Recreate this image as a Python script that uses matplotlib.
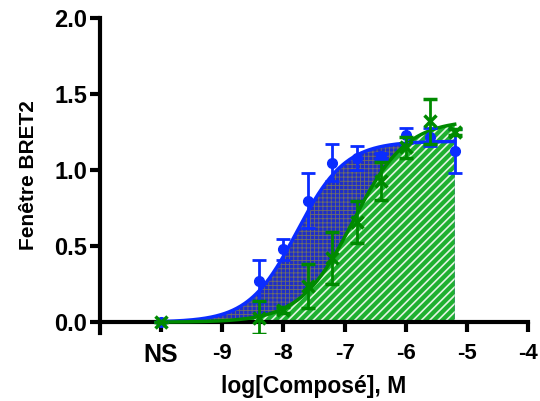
import numpy as np
import matplotlib
matplotlib.use('Agg')
import matplotlib.pyplot as plt

# données (log M), NS placé à -10
log_conc = [-8.4, -8.0, -7.6, -7.2, -6.8, -6.4, -6.0, -5.6, -5.2]
ns_pos = -10

blue_y = [0.27, 0.48, 0.80, 1.05, 1.08, 1.09, 1.23, 1.22, 1.125]
blue_err = [0.14, 0.07, 0.18, 0.12, 0.08, 0.02, 0.05, 0.06, 0.145]
blue_ns = 0.0

green_y = [0.03, 0.08, 0.24, 0.42, 0.66, 0.93, 1.15, 1.32, 1.25]
green_err = [0.11, 0.02, 0.145, 0.17, 0.14, 0.125, 0.07, 0.15, 0.02]
green_ns = 0.0

# paramètres d'ajustement (sigmoïde)
blue_fit = dict(bottom=0.0, top=1.19, logec50=-7.78, hill=1.1)
green_fit = dict(bottom=0.0, top=1.33, logec50=-6.86, hill=1.0)

xticks = [-10, -9, -8, -7, -6, -5, -4]
xticklabels = ['NS', '-9', '-8', '-7', '-6', '-5', '-4']
yticks = [0.0, 0.5, 1.0, 1.5, 2.0]


def sigmoid(x, p):
    return p['bottom'] + (p['top'] - p['bottom']) / (1 + 10 ** ((p['logec50'] - x) * p['hill']))


def hatch_lw(artist, lw):
    # per-artist hatch width if the version has it
    if hasattr(artist, 'set_hatch_linewidth'):
        artist.set_hatch_linewidth(lw)


plt.rcParams['font.family'] = 'Liberation Sans'
plt.rcParams['font.weight'] = 'bold'
plt.rcParams['hatch.linewidth'] = 0.6

fig = plt.figure(figsize=(5.4, 4.01), dpi=100)
ax = fig.add_axes([0.185, 0.17, 0.793, 0.785])

blue = '#0a2cff'
green = '#008a00'

xs = np.linspace(ns_pos, log_conc[-1], 300)
yb = sigmoid(xs, blue_fit)
yg = sigmoid(xs, green_fit)

fb = ax.fill_between(xs, 0, yb, facecolor='#1e2ec8', edgecolor='#6e6e66', hatch='++++', linewidth=0, zorder=1)
hatch_lw(fb, 0.6)
fg = ax.fill_between(xs, 0, yg, facecolor='#1fb030', edgecolor='#e4f4e4', hatch='////', linewidth=0, zorder=2)
hatch_lw(fg, 1.2)
ax.plot(xs, yb, color=blue, lw=2.5, zorder=3)
ax.plot(xs, yg, color=green, lw=2.5, zorder=4)

ax.errorbar([ns_pos] + log_conc, [blue_ns] + blue_y, yerr=[0] + blue_err, fmt='o', color=blue,
            ms=7, elinewidth=2, capsize=5, capthick=2, zorder=5)
ax.errorbar([ns_pos] + log_conc, [green_ns] + green_y, yerr=[0] + green_err, fmt='x', color=green,
            ms=9, mew=2.5, elinewidth=2, capsize=5, capthick=2, zorder=6)

ax.set_xlim(-11, -4)
ax.set_ylim(-0.07, 2.0)
ax.spines['top'].set_visible(False)
ax.spines['right'].set_visible(False)
ax.spines['bottom'].set_position(('data', 0))
for s in ['left', 'bottom']:
    ax.spines[s].set_linewidth(3)
ax.tick_params(width=3, length=7)
ax.tick_params(axis='x', labelsize=16, pad=8)
ax.tick_params(axis='y', labelsize=17, pad=2)

ax.set_xticks(xticks)
ax.set_xticklabels(xticklabels)
ax.get_xticklabels()[0].set_fontsize(18)
ax.set_yticks(yticks)
ax.set_yticklabels([f'{v:.1f}' for v in yticks])

ax.set_xlabel('log[Composé], M', fontsize=16.5, fontweight='bold', labelpad=6)
ax.set_ylabel('Fenêtre BRET2', fontsize=15, fontweight='bold', labelpad=12)

fig.savefig('out.png', dpi=100)
